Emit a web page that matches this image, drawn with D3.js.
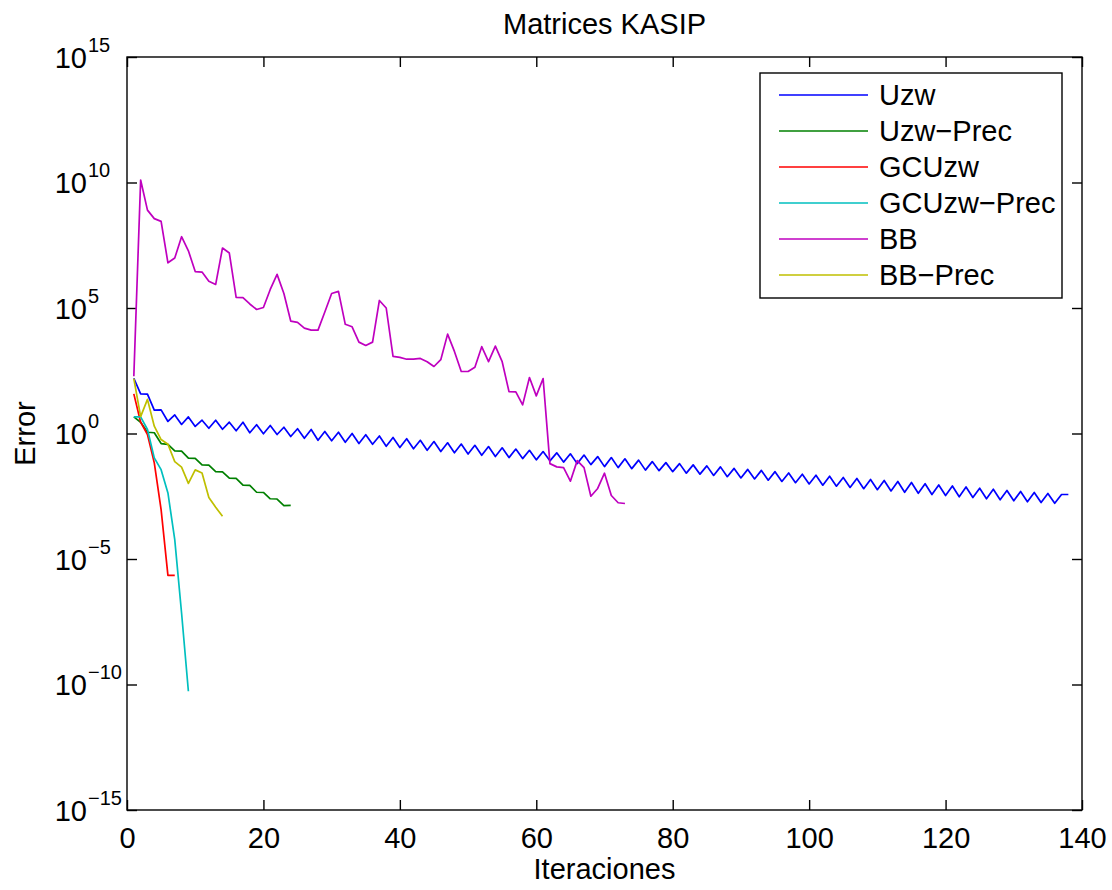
<!DOCTYPE html>
<html>
<head>
<meta charset="utf-8">
<script src="https://cdn.jsdelivr.net/npm/d3@7"></script>
<style>
  body { margin: 0; background: #fff; }
  svg text { font-family: "Liberation Sans", Arial, sans-serif; fill: #000; }
</style>
</head>
<body>
<div id="chart"></div>
<script>
// ############## data (log10 of the error, one value per iteration, starting at 1) ##############
var seriesNames = ["Uzw", "Uzw\u2212Prec", "GCUzw", "GCUzw\u2212Prec", "BB", "BB\u2212Prec"];
var seriesColors = ["#0000ff", "#008000", "#ff0000", "#00bfbf", "#bf00bf", "#bfbf00"];

var uzwLog = [2.2, 1.58, 1.57, 0.93, 0.94, 0.48, 0.74, 0.36, 0.66, 0.28,
  0.53, 0.21, 0.53, 0.17, 0.45, 0.11, 0.45, 0.03, 0.35, -0.01,
  0.32, -0.04, 0.25, -0.12, 0.19, -0.19, 0.16, -0.27, 0.08, -0.29,
  0.05, -0.35, 0.0, -0.4, -0.05, -0.43, -0.1, -0.51, -0.16, -0.56,
  -0.21, -0.61, -0.27, -0.67, -0.32, -0.72, -0.37, -0.77, -0.42, -0.82,
  -0.47, -0.87, -0.52, -0.92, -0.57, -0.96, -0.62, -1.0, -0.67, -1.05,
  -0.72, -1.09, -0.77, -1.14, -0.81, -1.2, -0.86, -1.24, -0.92, -1.32,
  -0.96, -1.36, -1.01, -1.4, -1.06, -1.46, -1.12, -1.48, -1.16, -1.52,
  -1.2, -1.58, -1.25, -1.62, -1.29, -1.67, -1.33, -1.72, -1.39, -1.77,
  -1.43, -1.81, -1.47, -1.86, -1.52, -1.91, -1.57, -1.96, -1.62, -2.01,
  -1.66, -2.06, -1.7, -2.1, -1.75, -2.15, -1.79, -2.2, -1.83, -2.24,
  -1.87, -2.29, -1.91, -2.34, -1.95, -2.38, -2.0, -2.43, -2.05, -2.47,
  -2.09, -2.52, -2.13, -2.55, -2.18, -2.6, -2.22, -2.64, -2.27, -2.68,
  -2.31, -2.72, -2.35, -2.75, -2.39, -2.78, -2.43, -2.43];

var uzwPrecLog = [0.66, 0.45, 0.05, 0.03, -0.4, -0.43, -0.69, -0.7, -0.98, -0.99,
  -1.25, -1.26, -1.52, -1.53, -1.78, -1.79, -2.06, -2.07, -2.34, -2.35,
  -2.6, -2.61, -2.87, -2.86];

var gcUzwLog = [1.58, 0.45, -0.04, -1.17, -3.03, -5.65, -5.65];

var gcUzwPrecLog = [0.66, 0.66, 0.16, -0.97, -1.44, -2.37, -4.23, -7.15, -10.27];

var bbLog = [2.28, 10.1, 8.9, 8.56, 8.45, 6.8, 6.99, 7.84, 7.28, 6.45,
  6.43, 6.07, 5.94, 7.39, 7.19, 5.42, 5.41, 5.16, 4.94, 5.02,
  5.74, 6.34, 5.58, 4.48, 4.43, 4.2, 4.12, 4.12, 4.84, 5.58,
  5.66, 4.35, 4.25, 3.64, 3.51, 3.64, 5.3, 5.0, 3.07, 3.03,
  2.96, 2.96, 2.99, 2.86, 2.67, 2.94, 3.96, 3.27, 2.47, 2.47,
  2.64, 3.46, 2.86, 3.48, 2.86, 1.67, 1.66, 1.14, 2.23, 1.5,
  2.19, -1.2, -1.33, -1.36, -1.9, -1.08, -1.36, -2.5, -2.19, -1.58,
  -2.47, -2.76, -2.79];

var bbPrecLog = [2.19, 0.67, 1.36, 0.29, -0.24, -0.43, -1.12, -1.34, -1.99, -1.45,
  -1.57, -2.55, -2.94, -3.3];

var xTicks = [0, 20, 40, 60, 80, 100, 120, 140];
var yTickExponents = [-15, -10, -5, 0, 5, 10, 15];

var title = "Matrices KASIP";
var xLabel = "Iteraciones";
var yLabel = "Error";

// ############## layout ##############
var attrs = {
  width: 1112,
  height: 890,
  marginLeft: 127,
  marginRight: 30,
  marginTop: 57,
  marginBottom: 80,
  fontSize: 29,
  supFontSize: 20,
  tickLength: 10,
  lineWidth: 1.7
};

var calc = {};
calc.chartWidth = attrs.width - attrs.marginLeft - attrs.marginRight;
calc.chartHeight = attrs.height - attrs.marginTop - attrs.marginBottom;

var svg = d3.select("#chart").append("svg")
  .attr("width", attrs.width)
  .attr("height", attrs.height);

var chart = svg.append("g")
  .attr("transform", "translate(" + attrs.marginLeft + "," + attrs.marginTop + ")");

var x = d3.scaleLinear().domain([0, 140]).range([0, calc.chartWidth]);
var y = d3.scaleLog().domain([1e-15, 1e15]).range([calc.chartHeight, 0]);

var allSeries = [uzwLog, uzwPrecLog, gcUzwLog, gcUzwPrecLog, bbLog, bbPrecLog].map(function(vals, i) {
  return {
    name: seriesNames[i],
    color: seriesColors[i],
    points: vals.map(function(v, k) { return { it: k + 1, err: Math.pow(10, v) }; })
  };
});

// ############## axes (ticks pointing inward, on all four sides) ##############
var yTickValues = yTickExponents.map(function(e) { return Math.pow(10, e); });

var xAxisBottom = chart.append("g")
  .attr("transform", "translate(0," + calc.chartHeight + ")")
  .call(d3.axisBottom(x).tickValues(xTicks).tickSizeInner(-attrs.tickLength).tickSizeOuter(0).tickPadding(17));

chart.append("g")
  .call(d3.axisTop(x).tickValues(xTicks).tickSizeInner(-attrs.tickLength).tickSizeOuter(0).tickFormat(""));

var yAxisLeft = chart.append("g")
  .call(d3.axisLeft(y).tickValues(yTickValues).tickSizeInner(-attrs.tickLength).tickSizeOuter(0).tickFormat(""));

chart.append("g")
  .attr("transform", "translate(" + calc.chartWidth + ",0)")
  .call(d3.axisRight(y).tickValues(yTickValues).tickSizeInner(-attrs.tickLength).tickSizeOuter(0).tickFormat(""));

chart.selectAll(".domain").remove();
chart.selectAll(".tick line").attr("stroke", "#000").attr("stroke-width", 1.4);

xAxisBottom.selectAll(".tick text")
  .attr("font-size", attrs.fontSize)
  .attr("font-family", "Liberation Sans, Arial, sans-serif")
  .attr("fill", "#000");

// y labels as 10 with a superscript exponent
yAxisLeft.selectAll(".tick").each(function(d) {
  var g = d3.select(this);
  var e = Math.round(Math.log10(d));
  g.append("text")
    .attr("x", -40)
    .attr("y", 10)
    .attr("text-anchor", "end")
    .attr("font-size", attrs.fontSize)
    .text("10");
  g.append("text")
    .attr("x", -39)
    .attr("y", -6)
    .attr("text-anchor", "start")
    .attr("font-size", attrs.supFontSize)
    .text(e < 0 ? "\u2212" + Math.abs(e) : String(e));
});

// frame
chart.append("rect")
  .attr("width", calc.chartWidth)
  .attr("height", calc.chartHeight)
  .attr("fill", "none")
  .attr("stroke", "#000")
  .attr("stroke-width", 1.4);

// ############## series ##############
var line = d3.line()
  .x(function(d) { return x(d.it); })
  .y(function(d) { return y(d.err); });

chart.append("g").selectAll("path")
  .data(allSeries)
  .enter()
  .append("path")
  .attr("d", function(d) { return line(d.points); })
  .attr("fill", "none")
  .attr("stroke", function(d) { return d.color; })
  .attr("stroke-width", attrs.lineWidth)
  .attr("stroke-linejoin", "round");

// ############## titles ##############
svg.append("text")
  .attr("x", attrs.marginLeft + calc.chartWidth / 2)
  .attr("y", 34)
  .attr("text-anchor", "middle")
  .attr("font-size", attrs.fontSize)
  .text(title);

svg.append("text")
  .attr("x", attrs.marginLeft + calc.chartWidth / 2)
  .attr("y", 879)
  .attr("text-anchor", "middle")
  .attr("font-size", attrs.fontSize)
  .text(xLabel);

svg.append("text")
  .attr("transform", "translate(35," + (attrs.marginTop + calc.chartHeight / 2) + ") rotate(-90)")
  .attr("text-anchor", "middle")
  .attr("font-size", attrs.fontSize)
  .text(yLabel);

// ############## legend ##############
var legend = svg.append("g").attr("transform", "translate(760,73)");

legend.append("rect")
  .attr("width", 302)
  .attr("height", 225)
  .attr("fill", "#fff")
  .attr("stroke", "#000")
  .attr("stroke-width", 1.4);

var legendItem = legend.selectAll(".legend-item")
  .data(allSeries)
  .enter()
  .append("g")
  .attr("class", "legend-item")
  .attr("transform", function(d, i) { return "translate(0," + (22 + i * 36) + ")"; });

legendItem.append("line")
  .attr("x1", 19)
  .attr("x2", 108)
  .attr("stroke", function(d) { return d.color; })
  .attr("stroke-width", attrs.lineWidth);

legendItem.append("text")
  .attr("x", 119)
  .attr("y", 10)
  .attr("font-size", attrs.fontSize)
  .text(function(d) { return d.name; });
</script>
</body>
</html>
